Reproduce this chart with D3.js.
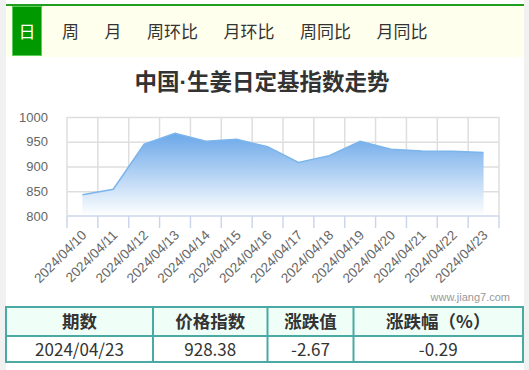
<!DOCTYPE html>
<html lang="zh">
<head>
  <meta charset="UTF-8">
  <title>中国·生姜日定基指数走势</title>
  <script src="https://d3js.org/d3.v7.min.js"></script>
  <style>
    body {
      margin: 0;
      padding: 0;
      background-color: #f1f1f1;
      font-family: "Noto Sans CJK SC", "Liberation Sans", sans-serif;
    }
    svg { display: block; }
  </style>
</head>
<body>
  <svg width="529" height="370"></svg>

  <script>
    // dati
    const tabs = ["日", "周", "月", "周环比", "月环比", "周同比", "月同比"];
    const dates = ["2024/04/10", "2024/04/11", "2024/04/12", "2024/04/13", "2024/04/14",
      "2024/04/15", "2024/04/16", "2024/04/17", "2024/04/18", "2024/04/19",
      "2024/04/20", "2024/04/21", "2024/04/22", "2024/04/23"];
    const values = [843, 854, 945, 967, 951, 955, 940, 908, 922, 951, 935, 931.5, 931.05, 928.38];
    const yTicks = [800, 850, 900, 950, 1000];
    const tableHeaders = ["期数", "价格指数", "涨跌值", "涨跌幅（%）"];
    const tableRow = ["2024/04/23", "928.38", "-2.67", "-0.29"];
    const titleParts = ["中国", "·", "生姜日定基指数走势"];
    const watermark = "www.jiang7.com";

    const svg = d3.select("svg");
    const cjk = "'Noto Sans CJK SC', sans-serif";
    const latin = "'Liberation Sans', Arial, sans-serif";

    // contenitore bianco
    svg.append("rect").attr("x", 6).attr("y", 0).attr("width", 518).attr("height", 370).attr("fill", "#fff");

    // barra delle schede
    svg.append("rect").attr("x", 6).attr("y", 6).attr("width", 518).attr("height", 51).attr("fill", "#ffffee");
    svg.append("rect").attr("x", 6).attr("y", 4).attr("width", 518).attr("height", 2).attr("fill", "#1f9e1f");
    svg.append("rect").attr("x", 12.5).attr("y", 6.5).attr("width", 29).attr("height", 49)
      .attr("fill", "#009900").attr("stroke", "#5ccc5c").attr("stroke-width", 1);

    let tx = 62;
    tabs.forEach((t, i) => {
      if (i === 0) {
        svg.append("text").attr("x", 27).attr("y", 38).attr("text-anchor", "middle")
          .attr("font-family", cjk).attr("font-size", 17).attr("fill", "#fff").text(t);
        return;
      }
      const el = svg.append("text").attr("x", tx).attr("y", 38)
        .attr("font-family", cjk).attr("font-size", 17).attr("fill", "#333").text(t);
      tx += el.node().getComputedTextLength() + 25.5;
    });

    // titolo (il punto centrale stretto, come nell'originale)
    const title = svg.append("text").attr("x", 262).attr("y", 90).attr("text-anchor", "middle")
      .attr("font-family", cjk).attr("font-size", 22.5).attr("font-weight", "bold")
      .attr("fill", "#333");
    titleParts.forEach((p, i) => {
      title.append("tspan").attr("font-family", i === 1 ? latin : cjk).text(p);
    });

    // scale
    const x = d3.scaleBand().domain(dates).range([67, 499]);
    const y = d3.scaleLinear().domain([800, 1000]).range([216, 117]);

    // griglia orizzontale
    svg.append("g")
      .attr("transform", "translate(67,0)")
      .call(d3.axisLeft(y).tickValues(yTicks.slice(1)).tickSize(-432).tickFormat(""))
      .call(g => g.select(".domain").remove())
      .selectAll("line").attr("stroke", "#dedede").attr("stroke-width", 1.5);

    // griglia verticale (ai bordi delle categorie)
    const edges = dates.map(d => x(d)).concat([x.range()[1]]);
    svg.append("g").selectAll("line").data(edges).join("line")
      .attr("x1", d => d).attr("x2", d => d)
      .attr("y1", y(1000)).attr("y2", y(800))
      .attr("stroke", "#dedede").attr("stroke-width", 1.5);

    // area con gradiente
    const defs = svg.append("defs");
    const grad = defs.append("linearGradient").attr("id", "fillGrad")
      .attr("gradientUnits", "userSpaceOnUse")
      .attr("x1", 0).attr("x2", 0).attr("y1", y(d3.max(values))).attr("y2", y(800));
    grad.append("stop").attr("offset", 0).attr("stop-color", "#6aa7e9");
    grad.append("stop").attr("offset", 1).attr("stop-color", "#ffffff");

    const cx = d => x(d) + x.bandwidth() / 2;
    const pts = dates.map((d, i) => [cx(d), values[i]]);

    svg.append("path").datum(pts)
      .attr("fill", "url(#fillGrad)")
      .attr("d", d3.area().x(d => d[0]).y0(y(800)).y1(d => y(d[1])));

    svg.append("path").datum(pts)
      .attr("fill", "none").attr("stroke", "#7cb5ec").attr("stroke-width", 1.5)
      .attr("d", d3.line().x(d => d[0]).y(d => y(d[1])));

    // asse x
    svg.append("line").attr("x1", 67).attr("x2", 499).attr("y1", y(800)).attr("y2", y(800))
      .attr("stroke", "#ccd6eb").attr("stroke-width", 1.5);
    svg.append("g").selectAll("line").data(edges).join("line")
      .attr("x1", d => d).attr("x2", d => d)
      .attr("y1", y(800)).attr("y2", y(800) + 12)
      .attr("stroke", "#ccd6eb").attr("stroke-width", 1.5);

    svg.append("g").selectAll("text").data(dates).join("text")
      .attr("transform", d => `translate(${cx(d) + 5},${y(800) + 20}) rotate(-45)`)
      .attr("text-anchor", "end")
      .attr("font-family", latin).attr("font-size", 13.5).attr("fill", "#666")
      .text(d => d);

    // etichette asse y
    svg.append("g").selectAll("text").data(yTicks).join("text")
      .attr("x", 48).attr("y", d => y(d)).attr("dy", "0.35em")
      .attr("text-anchor", "end")
      .attr("font-family", latin).attr("font-size", 13).attr("fill", "#666")
      .text(d => d);

    // watermark
    svg.append("text").attr("x", 510).attr("y", 301).attr("text-anchor", "end")
      .attr("font-family", latin).attr("font-size", 11).attr("fill", "#999").text(watermark);

    // tabella
    const colEdges = [6, 153, 267.5, 353.5, 523];
    const rowTop = 307, rowMid = 336, rowBot = 362;
    svg.append("rect").attr("x", 6).attr("y", rowTop).attr("width", 517).attr("height", rowMid - rowTop)
      .attr("fill", "#effff8");
    const tg = svg.append("g");
    tg.append("rect").attr("x", 6).attr("y", rowTop).attr("width", 517).attr("height", rowBot - rowTop)
      .attr("fill", "none").attr("stroke", "#4aa9a3").attr("stroke-width", 2);
    tg.append("line").attr("x1", 6).attr("x2", 523).attr("y1", rowMid).attr("y2", rowMid)
      .attr("stroke", "#4aa9a3").attr("stroke-width", 2);
    tg.selectAll("line.col").data(colEdges.slice(1, -1)).join("line").attr("class", "col")
      .attr("x1", d => d).attr("x2", d => d).attr("y1", rowTop).attr("y2", rowBot)
      .attr("stroke", "#4aa9a3").attr("stroke-width", 2);

    tableHeaders.forEach((h, i) => {
      svg.append("text").attr("x", (colEdges[i] + colEdges[i + 1]) / 2).attr("y", 328)
        .attr("text-anchor", "middle").attr("font-family", cjk).attr("font-size", 17.5)
        .attr("font-weight", "bold").attr("fill", "#333").text(h);
    });
    tableRow.forEach((v, i) => {
      svg.append("text").attr("x", (colEdges[i] + colEdges[i + 1]) / 2).attr("y", 356)
        .attr("text-anchor", "middle").attr("font-family", cjk).attr("font-size", 17)
        .attr("fill", "#333").text(v);
    });
  </script>
</body>
</html>
